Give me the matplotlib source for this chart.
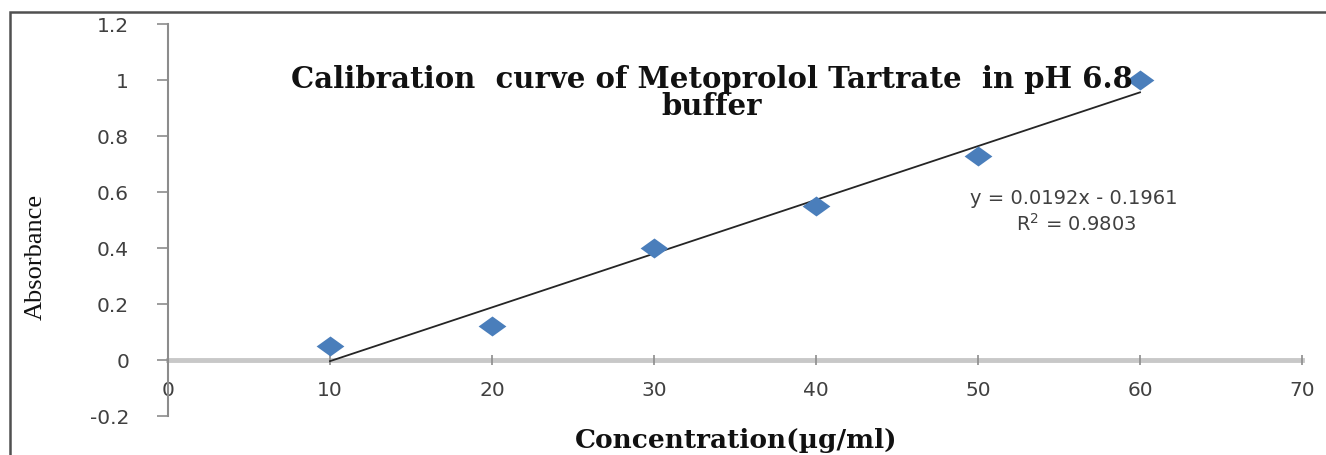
import numpy as np
import matplotlib
matplotlib.use("Agg")
import matplotlib.pyplot as plt
from matplotlib.patches import Rectangle

# data
conc = [10, 20, 30, 40, 50, 60]
absorb = [0.05, 0.12, 0.40, 0.55, 0.73, 1.00]
x_ticks = [0, 10, 20, 30, 40, 50, 60, 70]
y_ticks = [-0.2, 0, 0.2, 0.4, 0.6, 0.8, 1.0, 1.2]
y_ticklabels = ["-0.2", "0", "0.2", "0.4", "0.6", "0.8", "1", "1.2"]
# trendline as printed on the chart
slope, icpt, r2 = 0.0192, -0.1961, 0.9803

W, H = 1326, 456
fig = plt.figure(figsize=(W / 100, H / 100), dpi=100)
ax = fig.add_axes([168 / W, 1 - 417 / H, (1302 - 168) / W, (417 - 25) / H])

xs = np.array([min(conc), max(conc)])
ax.plot(xs, slope * xs + icpt, color="#252525", lw=1.3, zorder=2)

diamond = [(-1, 0), (0, 0.72), (1, 0), (0, -0.72), (-1, 0)]
ax.plot(conc, absorb, linestyle="none", marker=diamond, markersize=20,
        color="#4A7EBB", markeredgewidth=0, zorder=3)

ax.set_xlim(0, 70)
ax.set_ylim(-0.2, 1.2)
ax.set_xticks(x_ticks)
ax.set_xticklabels([str(v) for v in x_ticks])
ax.set_yticks(y_ticks)
ax.set_yticklabels(y_ticklabels)

for s in ("top", "right"):
    ax.spines[s].set_visible(False)
ax.spines["bottom"].set_position(("data", 0))
ax.spines["bottom"].set_color("#C8C8C8")
ax.spines["bottom"].set_linewidth(3.5)
ax.spines["bottom"].set_zorder(1)
ax.spines["left"].set_color("#8C8C8C")
ax.spines["left"].set_linewidth(1.5)

ax.tick_params(axis="y", direction="out", length=8, width=1.2, color="#8C8C8C",
               pad=20, labelsize=14.5, labelcolor="#404040")
ax.tick_params(axis="x", direction="inout", length=7, width=1.2, color="#8C8C8C",
               pad=11, labelsize=14.5, labelcolor="#404040")
for lab in ax.get_xticklabels() + ax.get_yticklabels():
    lab.set_family("DejaVu Sans")

eq_x = 1074 / W
fig.text(eq_x, 1 - 199 / H, "y = %.4fx - %.4f" % (slope, -icpt), ha="center", va="center",
         fontsize=14, color="#404040", family="DejaVu Sans")
fig.text(eq_x + 2 / W, 1 - 224 / H, "R$^2$ = %.4f" % r2, ha="center", va="center",
         fontsize=14, color="#404040", family="DejaVu Sans")

fig.text(712 / W, 1 - 93 / H, "Calibration  curve of Metoprolol Tartrate  in pH 6.8\nbuffer",
         ha="center", va="center", fontsize=21, fontweight="bold",
         family="DejaVu Serif", color="#111111", linespacing=0.95)

fig.text(736 / W, 1 - 441 / H, "Concentration(\u00b5g/ml)", ha="center", va="center",
         fontsize=19, fontweight="bold", family="DejaVu Serif", color="#111111")
fig.text(36 / W, 1 - 257 / H, "Absorbance", ha="center", va="center", rotation=90,
         fontsize=19, family="Liberation Serif", color="#111111")

# outer chart frame
fig.patches.append(Rectangle((10 / W, -0.05), 1.2, 1.05 - 13 / H, transform=fig.transFigure,
                             fill=False, edgecolor="#505050", linewidth=1.8))

fig.savefig("out.png", dpi=100)
